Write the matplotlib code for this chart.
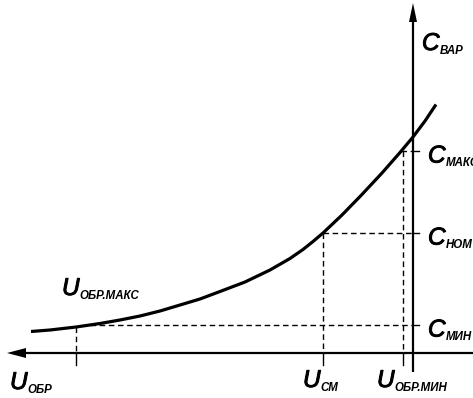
import matplotlib
matplotlib.use("Agg")
import matplotlib.pyplot as plt
import matplotlib.patheffects as pe
from matplotlib import font_manager
import numpy as np

# Varicap C-V characteristic (arbitrary units): reverse voltage grows to the left
u_curve = [382, 363, 337, 313, 293, 273, 253, 233, 213, 193, 168, 143, 123,
           110, 100, 90, 71, 52, 31, 13, 0, -12, -23]
c_curve = [21.5, 23, 26, 29.5, 33, 37, 42, 48, 54, 61.5, 71, 83, 94.5,
           103.5, 111.5, 120, 138, 157.5, 180, 200.5, 216, 232, 248.5]

# Marked operating points
u_marks = [337, 90, 10]          # U_обр.макс, U_см, U_обр.мин
c_marks = [28, 120, 202]         # C_мин, C_ном, C_макс

# Labels: (main letter, subscript)
u_labels = [("U", "ОБР.МАКС"), ("U", "СМ"), ("U", "ОБР.МИН")]
c_labels = [("C", "МИН"), ("C", "НОМ"), ("C", "МАКС")]
axis_labels = [("U", "ОБР"), ("C", "ВАР")]

installed = {f.name for f in font_manager.fontManager.ttflist}
if "Liberation Sans Narrow" in installed:
    sub_font = dict(family="Liberation Sans Narrow", style="italic",
                    weight="bold", size=9.5)
else:
    sub_font = dict(family="Liberation Sans", style="italic",
                    weight="bold", size=8.3)
main_font = dict(family="Liberation Sans", style="italic", size=17.5)

fig = plt.figure(figsize=(4.73, 3.98), dpi=100)
ax = fig.add_axes([0, 0, 1, 1])
ax.set_xlim(413, -60)
ax.set_ylim(-45, 353)
ax.axis("off")

k = "black"

# Axes with arrow heads
x_tip, x_base = 406, 387
y_tip, y_base = 350, 331
ax.plot([-60, x_base], [0, 0], color=k, lw=1.6, solid_capstyle="butt")
ax.fill([x_tip, x_base, x_base], [0, 5, -5], color=k, lw=0)
ax.plot([0, 0], [-19, y_base], color=k, lw=1.6, solid_capstyle="butt")
ax.fill([0, -4, 4], [y_tip, y_base, y_base], color=k, lw=0)

# Characteristic curve
ax.plot(u_curve, c_curve, color=k, lw=2.3, solid_joinstyle="round",
        solid_capstyle="butt", zorder=3)

# Projection lines from the curve to both axes, with ticks
u_rev, c_rev = u_curve[::-1], c_curve[::-1]
dash = dict(color=k, lw=1.0, dashes=[4.0, 2.6])
for u, c in zip(u_marks, c_marks):
    c_top = min(np.interp(u, u_rev, c_rev), c)
    u_start = np.interp(c, c_curve, u_curve)
    ax.plot([u, u], [c_top, 0], **dash)
    ax.plot([u, u], [0, -12], color=k, lw=1.0)
    ax.plot([u_start, 0], [c, c], **dash)
    ax.plot([0, -6], [c, c], color=k, lw=1.0)


def label(x, y, main, sub):
    t = ax.text(x, y, main, ha="left", va="baseline", color=k,
                path_effects=[pe.withStroke(linewidth=0.7, foreground=k)],
                **main_font)
    ax.annotate(sub, xy=(1, 0), xycoords=t, xytext=(0.2, 0.8),
                textcoords="offset points", ha="left", va="baseline",
                color=k, **sub_font)


# Voltage labels
label(351, 58, *u_labels[0])
label(110, -34, *u_labels[1])
label(36, -34, *u_labels[2])
label(403, -36, *axis_labels[0])

# Capacitance labels
for c, (m, s) in zip(c_marks, c_labels):
    label(-15, c - 11.5, m, s)
label(-9, 303, *axis_labels[1])

fig.savefig("out.png", dpi=100)
